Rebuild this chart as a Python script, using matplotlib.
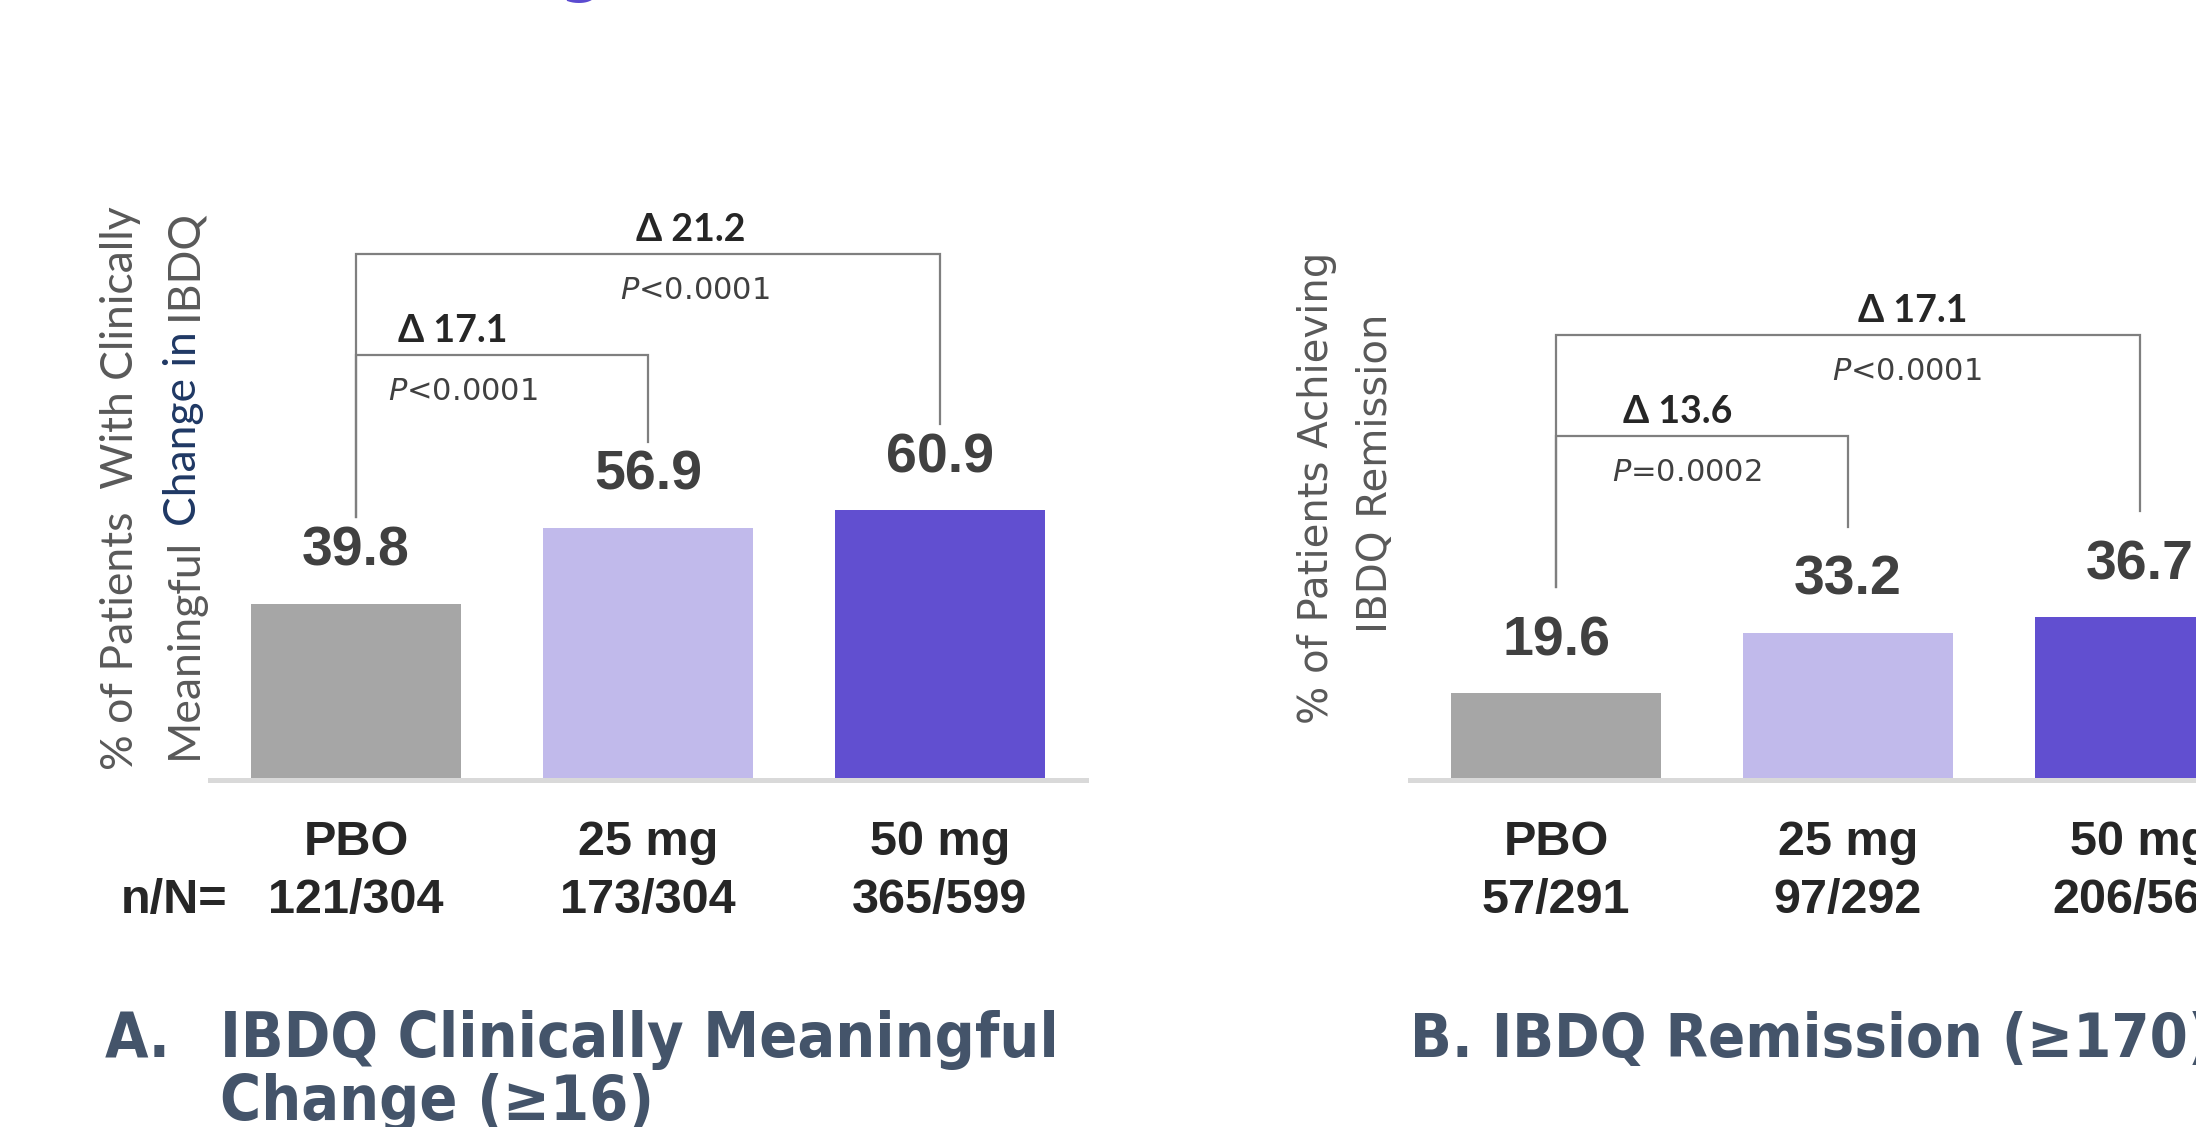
import numpy as np
import matplotlib
matplotlib.use('Agg')
import matplotlib.pyplot as plt

W, H = 2196, 1127
fig = plt.figure(figsize=(W / 100, H / 100), dpi=100)
renderer = fig.canvas.get_renderer()

groups = ['PBO', '25 mg', '50 mg']
bar_colors = ['#a6a6a6', '#c1baeb', '#614fd0']

# A. clinically meaningful change (>=16)
cmc_pct = [39.8, 56.9, 60.9]
cmc_n = ['121/304', '173/304', '365/599']
cmc_delta = ['Δ 17.1', 'Δ 21.2']        # 25 mg vs PBO, 50 mg vs PBO
cmc_p = ['<0.0001', '<0.0001']

# B. remission (>=170)
rem_pct = [19.6, 33.2, 36.7]
rem_n = ['57/291', '97/292', '206/561']
rem_delta = ['Δ 13.6', 'Δ 17.1']
rem_p = ['=0.0002', '<0.0001']

PX_PER_UNIT = 4.43
BASE_PX = 780          # axis line, pixels from top
GRAY_TXT = '#404040'
LINE = '#7f7f7f'


def fx(px):
    return px / W


def fy(px):
    return (H - px) / H


def panel(left_px, pct, ns, deltas, pvals, lay, show_nn=False):
    ax = fig.add_axes([fx(left_px), fy(BASE_PX), 876 / W, 620 / H])
    x = np.arange(len(groups))
    ax.bar(x, pct, width=0.72, color=bar_colors, zorder=1)
    ax.set_xlim(-0.5, 2.5)
    ax.set_ylim(0, 620 / PX_PER_UNIT)
    for s in ['top', 'right', 'left']:
        ax.spines[s].set_visible(False)
    ax.spines['bottom'].set_color('#d9d9d9')
    ax.spines['bottom'].set_linewidth(3.6)
    ax.set_xticks([])
    ax.set_yticks([])
    ax.patch.set_alpha(0)

    for i, v in enumerate(pct):
        ax.text(i, v + 38 / PX_PER_UNIT, f'{v:.1f}', ha='center', va='baseline',
                fontsize=40, fontweight='bold', family='Liberation Sans', color=GRAY_TXT)

    # group and n/N labels under the axis
    tr = ax.get_xaxis_transform()
    for i, (g, n) in enumerate(zip(groups, ns)):
        ax.text(i, -(855 - BASE_PX) / 620, g, transform=tr, ha='center', va='baseline',
                fontsize=35, fontweight='bold', family='Liberation Sans', color='#262626')
        ax.text(i, -(913 - BASE_PX) / 620, n, transform=tr, ha='center', va='baseline',
                fontsize=35, fontweight='bold', family='Liberation Sans', color='#262626')
    if show_nn:
        ax.text(-0.44, -(913 - BASE_PX) / 620, 'n/N=', transform=tr, ha='right', va='baseline',
                fontsize=35, fontweight='bold', family='Liberation Sans', color='#262626')

    # comparison brackets vs PBO
    for k, j in enumerate([1, 2]):
        top = lay['tops'][k]
        gap = lay['gap']
        ax.plot([0, 0, j, j], [pct[0] + gap, top, top, pct[j] + gap],
                color=LINE, lw=1.6, solid_joinstyle='miter', zorder=3)
        ax.text(lay['dx'][k], top + 2.9, deltas[k], ha='center', va='baseline',
                fontsize=27, fontweight='bold', family=['Lato', 'DejaVu Sans'], color='#262626')
        ax.text(lay['px'][k], top - 10.2, r'$\mathit{P}$' + pvals[k], ha='center', va='baseline',
                fontsize=22, family='DejaVu Sans', color=GRAY_TXT)
    return ax


panel(210, cmc_pct, cmc_n, cmc_delta, cmc_p,
      {'tops': [95.9, 118.7], 'gap': 19.5, 'dx': [0.332, 1.147], 'px': [0.366, 1.16]},
      show_nn=True)
panel(1410, rem_pct, rem_n, rem_delta, rem_p,
      {'tops': [77.7, 100.5], 'gap': 24, 'dx': [0.418, 1.223], 'px': [0.449, 1.202]})


def vertical_line(x_px, y_mid_px, parts, size, family):
    # rotated text made of coloured pieces, centred on y_mid_px
    kw = dict(fontsize=size, family=family)

    def width(s):
        t = fig.text(0, 0, s, **kw)
        w = t.get_window_extent(renderer).width
        t.remove()
        return w
    space = width('a a') - width('aa')
    lens = [width(s) for s, c in parts]
    total = sum(lens) + space * (len(parts) - 1)
    y = y_mid_px + total / 2
    for (s, c), L in zip(parts, lens):
        fig.text(fx(x_px), fy(y), s, rotation=90, ha='center', va='bottom', color=c, **kw)
        y -= L + space


LBL = '#595959'
NAVY = '#1f3864'
vertical_line(121, 488, [('% of Patients  With Clinically', LBL)], 32, 'Lato')
vertical_line(184, 484, [('Meaningful', LBL), ('Change in', NAVY), ('IBDQ', LBL)], 32, 'Lato')
vertical_line(1317, 488, [('% of Patients Achieving', LBL)], 29, 'DejaVu Sans')
vertical_line(1376, 473, [('IBDQ Remission', LBL)], 29, 'DejaVu Sans')

# panel titles
TITLE = '#44546a'
tkw = dict(fontsize=45, fontweight='bold', family='DejaVu Sans', fontstretch='condensed',
           color=TITLE, va='baseline', ha='left')
fig.text(fx(105), fy(1057), 'A.', **tkw)
fig.text(fx(220), fy(1057), 'IBDQ Clinically Meaningful', **tkw)
fig.text(fx(220), fy(1120), 'Change (≥16)', **tkw)
fig.text(fx(1410), fy(1057), 'B. IBDQ Remission (≥170)', fontsize=44, fontweight='bold',
         family='DejaVu Sans', fontstretch='condensed', color=TITLE, va='baseline', ha='left')

# bottom of the cut-off slide title above the charts
fig.text(fx(581), fy(-10), 'g', fontsize=44, fontweight='bold', family='DejaVu Sans',
         color='#5b4bd0', ha='center', va='baseline')

fig.savefig('out.png', dpi=100)
